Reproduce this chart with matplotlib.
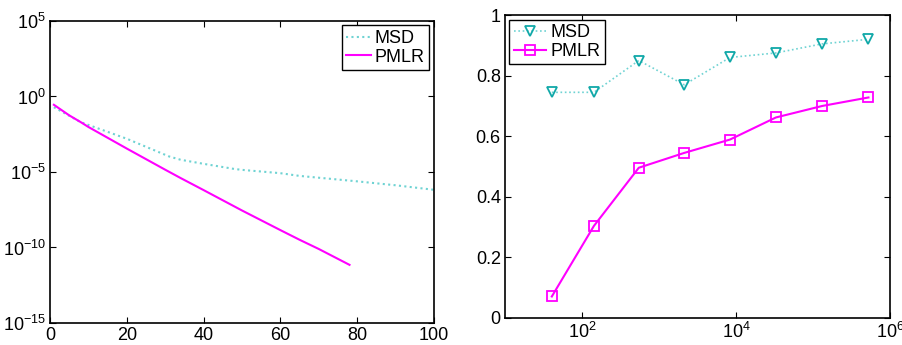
import numpy as np
import matplotlib
matplotlib.use('Agg')
from matplotlib import pyplot as plt
from matplotlib.ticker import NullLocator, FixedLocator

plt.rcParams['font.family'] = ['Liberation Sans', 'DejaVu Sans']
plt.rcParams['mathtext.fontset'] = 'custom'
plt.rcParams['mathtext.rm'] = 'Liberation Sans'

# left panel: residual vs iteration (log10 of values)
iters_msd = [1, 8, 20, 31, 34, 40, 48, 50, 60, 65, 80, 90, 100]
log_msd = [-0.71, -1.70, -2.80, -3.97, -4.19, -4.46, -4.80, -4.86, -5.08, -5.26, -5.62, -5.88, -6.18]
iters_pmlr = [1, 5, 8, 10, 20, 30, 34, 40, 48, 50, 60, 65, 70, 78]
log_pmlr = [-0.55, -1.25, -1.70, -2.02, -3.45, -4.85, -5.40, -6.20, -7.28, -7.55, -8.85, -9.49, -10.10, -11.15]

# right panel: accuracy vs size
sizes = [40.6, 143, 547, 2130, 8350, 33000, 132000, 525000]
acc_msd = [0.745, 0.745, 0.850, 0.770, 0.860, 0.875, 0.905, 0.920]
acc_pmlr = [0.071, 0.304, 0.496, 0.545, 0.589, 0.662, 0.700, 0.728]

c_msd_line = '#6fd3d3'
c_msd = '#10a8a8'
c_pmlr = '#ff00ff'
dots = (0, (1, 1.6))

fig = plt.figure(figsize=(9.03, 3.45), dpi=100)
ax1 = fig.add_axes([0.0554, 0.0638, 0.4252, 0.8754])
ax2 = fig.add_axes([0.5592, 0.0783, 0.4264, 0.8780])

fs = 13
for ax in (ax1, ax2):
    ax.tick_params(direction='in', top=True, right=True, length=4, width=0.8,
                   labelsize=fs, pad=3)
    for s in ax.spines.values():
        s.set_linewidth(1.2)

ax1.semilogy(iters_msd, 10.0 ** np.array(log_msd), ls=dots, color=c_msd_line, lw=1.5, label='MSD')
ax1.semilogy(iters_pmlr, 10.0 ** np.array(log_pmlr), '-', color=c_pmlr, lw=1.5, label='PMLR')
ax1.set_xlim(0, 100)
ax1.set_ylim(1e-15, 1e5)
ax1.xaxis.set_major_locator(FixedLocator([0, 20, 40, 60, 80, 100]))
ax1.yaxis.set_major_locator(FixedLocator([1e-15, 1e-10, 1e-5, 1e0, 1e5]))
ax1.yaxis.set_minor_locator(NullLocator())
leg1 = ax1.legend(loc='upper right', fontsize=fs, fancybox=False, edgecolor='black',
                  framealpha=1, handlelength=1.4, handletextpad=0.2, borderpad=0.25,
                  labelspacing=0.1, borderaxespad=0.25)
leg1.get_frame().set_linewidth(1.0)

ax2.semilogx(sizes, acc_msd, ls=dots, color=c_msd_line, lw=1.2, marker='v', ms=7.5,
             mfc='none', mec=c_msd, mew=1.3, label='MSD')
ax2.semilogx(sizes, acc_pmlr, '-', color=c_pmlr, lw=1.5, marker='s', ms=6.5,
             mfc='none', mec=c_pmlr, mew=1.3, label='PMLR')
ax2.set_xlim(10, 1e6)
ax2.set_ylim(0, 1)
ax2.xaxis.set_major_locator(FixedLocator([1e2, 1e4, 1e6]))
ax2.xaxis.set_minor_locator(NullLocator())
ax2.yaxis.set_major_locator(FixedLocator([0, 0.2, 0.4, 0.6, 0.8, 1.0]))
ax2.set_yticklabels(['0', '0.2', '0.4', '0.6', '0.8', '1'])
leg2 = ax2.legend(loc='upper left', fontsize=fs, fancybox=False, edgecolor='black',
                  framealpha=1, handlelength=1.8, handletextpad=0.2, borderpad=0.25,
                  labelspacing=0.1, borderaxespad=0.25)
leg2.get_frame().set_linewidth(1.0)

fig.savefig('out.png', dpi=100)
